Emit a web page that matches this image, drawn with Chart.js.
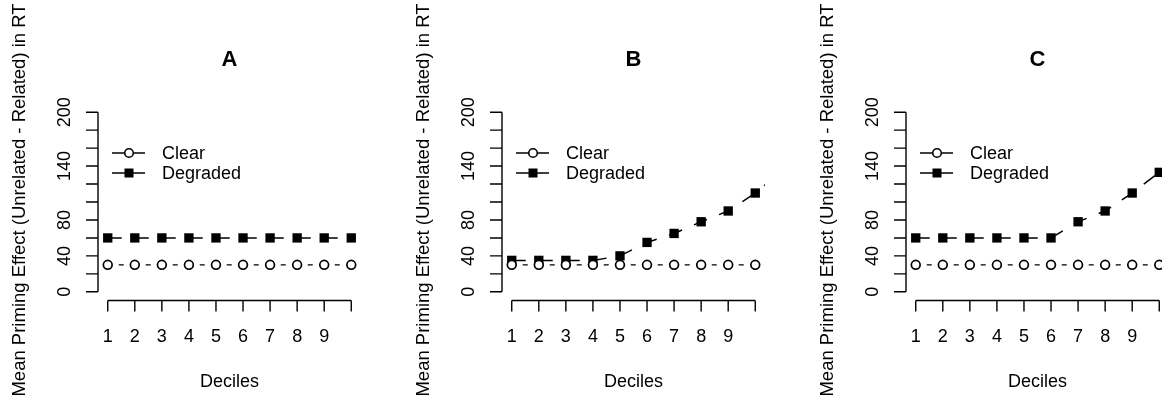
<!DOCTYPE html>
<html lang="en">
<head>
  <meta charset="UTF-8">
  <title>Mean Priming Effect by Decile</title>
  <style>
    body{margin:0;width:1162px;height:396px;overflow:hidden;background:#fff;position:relative}
    .panel{position:absolute;top:0;width:404px;height:396px}
  </style>
  <script src="https://cdn.jsdelivr.net/npm/chart.js"></script>
</head>
<body>
  <div class="panel" style="left:0"><canvas id="chartA"></canvas></div>
  <div class="panel" style="left:404px"><canvas id="chartB"></canvas></div>
  <div class="panel" style="left:808px"><canvas id="chartC"></canvas></div>
  <script>
    const deciles   = [1,2,3,4,5,6,7,8,9,10,11];
    const panelNames = ['A','B','C'];
    const seriesNames = ['Clear','Degraded'];

    const clearA    = [30,30,30,30,30,30,30,30,30,30];
    const degradedA = [60,60,60,60,60,60,60,60,60,60];
    const clearB    = [30,30,30,30,30,30,30,30,30,30];
    const degradedB = [35,35,35,35,40,55,65,78,90,110,135];
    const clearC    = [30,30,30,30,30,30,30,30,30,30];
    const degradedC = [60,60,60,60,60,60,78,90,110,133];

    const yTicks      = [0,20,40,60,80,100,120,140,160,180,200];
    const yTickLabels = ['0','','40','','80','','','140','','','200'];
    const xTicks      = [1,2,3,4,5,6,7,8,9,10];
    const xTickLabels = ['1','2','3','4','5','6','7','8','9',''];
    const yTitle = 'Mean Priming Effect (Unrelated - Related) in RT';
    const xTitle = 'Deciles';

    const FONT = '"Liberation Sans", Arial, sans-serif';

    // base-R style axes, titles and legend, placed with the chart's own scales
    function rAxes(letter) {
      return {
        id: 'rAxes',
        afterDraw(chart) {
          const {ctx, chartArea: a, scales: {x, y}} = chart;
          ctx.save();
          ctx.strokeStyle = '#000';
          ctx.fillStyle = '#000';
          ctx.lineWidth = 1.4;

          // y axis
          ctx.beginPath();
          ctx.moveTo(a.left, y.getPixelForValue(yTicks[0]));
          ctx.lineTo(a.left, y.getPixelForValue(yTicks[yTicks.length-1]));
          yTicks.forEach(v => {
            const py = y.getPixelForValue(v);
            ctx.moveTo(a.left, py); ctx.lineTo(a.left - 12, py);
          });
          ctx.stroke();

          // x axis
          const axY = a.bottom + 1.5;
          ctx.beginPath();
          ctx.moveTo(x.getPixelForValue(xTicks[0]), axY);
          ctx.lineTo(x.getPixelForValue(xTicks[xTicks.length-1]), axY);
          xTicks.forEach(v => {
            const px = x.getPixelForValue(v);
            ctx.moveTo(px, axY); ctx.lineTo(px, axY + 11);
          });
          ctx.stroke();

          ctx.font = '18px ' + FONT;
          ctx.textAlign = 'center';
          ctx.textBaseline = 'alphabetic';
          xTicks.forEach((v,i) => ctx.fillText(xTickLabels[i], x.getPixelForValue(v), 342));
          yTicks.forEach((v,i) => {
            if (!yTickLabels[i]) return;
            ctx.save();
            ctx.translate(a.left - 28, y.getPixelForValue(v));
            ctx.rotate(-Math.PI/2);
            ctx.fillText(yTickLabels[i], 0, 0);
            ctx.restore();
          });

          const cx = (a.left + a.right) / 2;
          ctx.fillText(xTitle, cx, 387);
          ctx.save();
          ctx.font = '18.5px ' + FONT;
          ctx.translate(25, (a.top + a.bottom) / 2 - 2);
          ctx.rotate(-Math.PI/2);
          ctx.fillText(yTitle, 0, 0);
          ctx.restore();

          ctx.font = 'bold 22px ' + FONT;
          ctx.fillText(letter, cx, 66);

          // legend
          const lx0 = a.left + 14, lx1 = a.left + 47, lmid = a.left + 31;
          const rows = [153, 173];
          ctx.lineWidth = 1.4;
          rows.forEach(ry => {
            ctx.beginPath(); ctx.moveTo(lx0, ry); ctx.lineTo(lx1, ry); ctx.stroke();
          });
          ctx.lineWidth = 1.6;
          ctx.beginPath();
          ctx.arc(lmid, rows[0], 4.3, 0, Math.PI*2);
          ctx.fillStyle = '#fff'; ctx.fill();
          ctx.stroke();
          ctx.fillStyle = '#000';
          ctx.fillRect(lmid - 4.5, rows[1] - 4.5, 9, 9);
          ctx.font = '18px ' + FONT;
          ctx.textAlign = 'left';
          ctx.textBaseline = 'middle';
          seriesNames.forEach((s,i) => ctx.fillText(s, a.left + 64, rows[i] + 1));
          ctx.restore();
        }
      };
    }

    function makePanel(id, letter, clear, degraded) {
      const pts = arr => arr.map((v,i) => ({x: deciles[i], y: v}));
      new Chart(document.getElementById(id), {
        type: 'line',
        data: {
          datasets: [
            {
              label: seriesNames[0], data: pts(clear),
              borderColor: '#000', borderWidth: 1.4,
              borderDash: [5,22], borderDashOffset: 16,
              pointStyle: 'circle', pointRadius: 4.4,
              pointBackgroundColor: '#fff', pointBorderColor: '#000', pointBorderWidth: 1.7
            },
            {
              label: seriesNames[1], data: pts(degraded),
              borderColor: '#000', borderWidth: 1.5,
              borderDash: [14,13],
              pointStyle: 'rect', pointRadius: 6.6,
              pointBackgroundColor: '#000', pointBorderColor: '#000', pointBorderWidth: 0
            }
          ]
        },
        options: {
          responsive: true, maintainAspectRatio: false, animation: false,
          layout: { padding: { left: 98, right: 43, top: 105, bottom: 97 } },
          scales: {
            x: { type: 'linear', min: 0.64, max: 10.36, display: false },
            y: { min: -8, max: 208, display: false }
          },
          plugins: { legend: { display: false }, title: { display: false }, tooltip: { enabled: false } },
          elements: { line: { tension: 0 } }
        },
        plugins: [rAxes(letter)]
      });
    }

    makePanel('chartA', panelNames[0], clearA, degradedA);
    makePanel('chartB', panelNames[1], clearB, degradedB);
    makePanel('chartC', panelNames[2], clearC, degradedC);
  </script>
</body>
</html>
